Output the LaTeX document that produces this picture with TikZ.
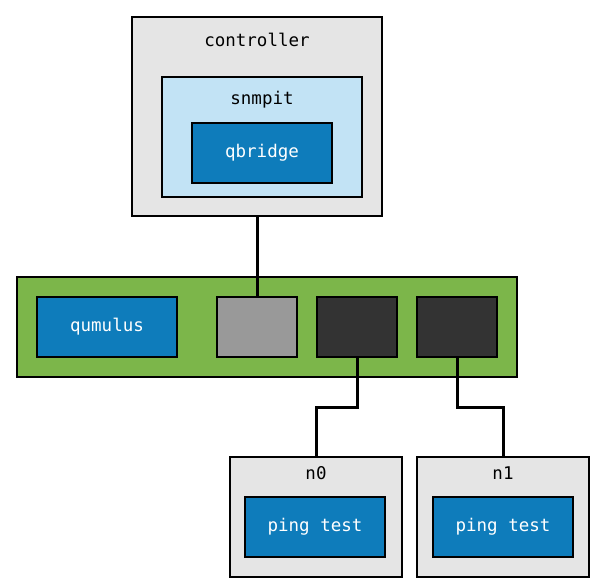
\documentclass[tikz,border=0pt]{standalone}
\usepackage{fontspec}
\setmonofont{DejaVu Sans Mono}
\usepackage{tikz}
\usetikzlibrary{positioning, calc}

\definecolor{boxgray}{HTML}{E5E5E5}
\definecolor{paleblue}{HTML}{C2E3F5}
\definecolor{appblue}{HTML}{0E7CBB}
\definecolor{switchgreen}{HTML}{7CB64A}
\definecolor{portgray}{HTML}{999999}
\definecolor{portdark}{HTML}{333333}

\begin{document}
\begin{tikzpicture}[
        x=1pt, y=-1pt,
        every node/.style={font=\fontsize{17.5}{20}\selectfont\ttfamily},
        frame/.style={draw=black, line width=2.2pt, fill=boxgray, inner sep=0pt},
        inner/.style={draw=black, line width=2.2pt, fill=paleblue, inner sep=0pt},
        app/.style={draw=black, line width=2.2pt, fill=appblue, text=white,
                     minimum width=140pt, minimum height=60pt, inner sep=0pt},
        port/.style={draw=black, line width=2.2pt, minimum width=80pt,
                     minimum height=60pt, inner sep=0pt},
        wire/.style={line width=3pt, black}
      ]
        \useasboundingbox (0,0) rectangle (605,588);

        % controller
        \node[frame, minimum width=250pt, minimum height=199pt] (ctrl) at (257,116.5) {};
        \node (ctrllbl) at (257,40) {controller};
        \node[inner, minimum width=200pt, minimum height=120pt] (snmp) at (262,137) {};
        \node (snmplbl) at (262,100) {snmpit};
        \node[app] (qbr) at (262,153) {qbridge};

        % switch
        \node[draw=black, line width=2.2pt, fill=switchgreen, minimum width=500pt,
              minimum height=100pt, inner sep=0pt] (sw) at (267,327) {};
        \node[app] (qum) at (107,327) {qumulus};
        \node[port, fill=portgray] (p0) at (257,327) {};
        \node[port, fill=portdark] (p1) at (357,327) {};
        \node[port, fill=portdark] (p2) at (457,327) {};

        % nodes
        \node[frame, minimum width=172pt, minimum height=120pt] (n0) at (316,517) {};
        \node (n0lbl) at (316,473) {n0};
        \node[app] (t0) at (315,527) {ping test};
        \node[frame, minimum width=172pt, minimum height=120pt] (n1) at (503,517) {};
        \node (n1lbl) at (503,473) {n1};
        \node[app] (t1) at (503,527) {ping test};

        \draw[wire] (ctrl.south) -- (p0.north);
        \draw[wire] (p1.south) |- (316,407) -- (n0.north);
        \draw[wire] (p2.south) |- (503,407) -- (n1.north);
      \end{tikzpicture}
\end{document}
